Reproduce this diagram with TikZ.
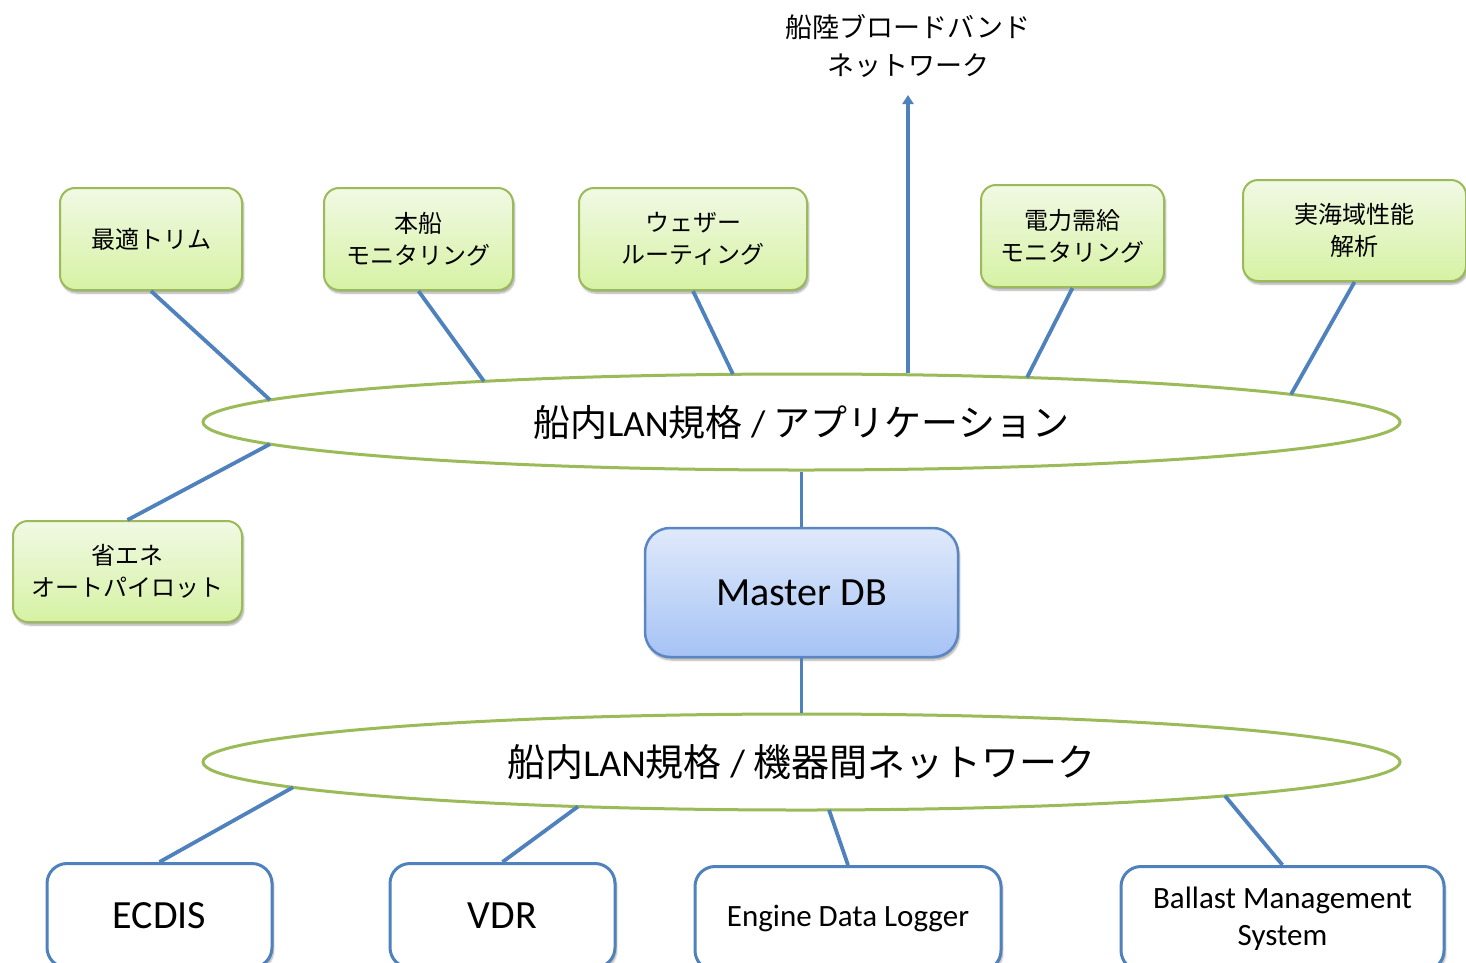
\documentclass[tikz,border=0pt]{standalone}
\usepackage{fontspec}
\setmainfont{Carlito}
\newfontfamily\jp{Noto Sans CJK JP}
\usetikzlibrary{shapes.geometric,shadows.blur,arrows.meta}

\definecolor{olive}{HTML}{9BBB59}
\definecolor{linkblue}{HTML}{4F81BD}
\definecolor{apptop}{HTML}{F1F9E4}
\definecolor{appbot}{HTML}{D6F2A4}
\definecolor{dbtop}{HTML}{DFE9FB}
\definecolor{dbbot}{HTML}{A6C3F5}
\definecolor{dbedge}{HTML}{5A86C3}

\tikzset{
  softshadow/.style={blur shadow={shadow xshift=1.5pt, shadow yshift=-3pt,
      shadow opacity=35, shadow blur steps=6}},
  lan/.style={ellipse, draw=olive, line width=3pt, fill=white, inner sep=0pt,
      minimum width=1197pt, minimum height=96pt},
  appbox/.style={draw=olive, line width=2pt, rounded corners=15pt,
      top color=apptop, bottom color=appbot, align=center, inner sep=0pt,
      font=\jp\fontsize{24}{32}\selectfont, softshadow},
  dbbox/.style={draw=dbedge, line width=2.5pt, rounded corners=25pt,
      top color=dbtop, bottom color=dbbot, inner sep=0pt,
      minimum width=313pt, minimum height=129pt,
      font=\fontsize{40}{44}\selectfont, softshadow},
  devbox/.style={draw=linkblue, line width=3pt, rounded corners=20pt,
      fill=white, align=center, inner sep=0pt, anchor=north,
      minimum height=104pt, softshadow},
  link/.style={draw=linkblue, line width=3.8pt},
}

\begin{document}
\begin{tikzpicture}[x=1pt,y=-1pt]
\useasboundingbox (0,0) rectangle (1466,962);
\clip (0,0) rectangle (1466,962);

% the two network rings
\node[lan, font=\fontsize{37}{40}\selectfont] (app) at (801.5,422)
  {{\jp 船内}LAN{\jp 規格} / {\jp アプリケーション}};
\node[lan, font=\fontsize{38}{40}\selectfont] (dev) at (801.5,762)
  {{\jp 船内}LAN{\jp 規格} / {\jp 機器間ネットワーク}};

% attachment points on the rings (offsets from the centre, on the ellipse)
\path (app.center) ++(-531.5,-22.1) coordinate (a1);
\path (app.center) ++(-317.5,-40.7) coordinate (a2);
\path (app.center) ++(-68.5,-47.7)  coordinate (a3);
\path (app.center) ++(225.5,-44.5)  coordinate (a4);
\path (app.center) ++(489.5,-27.6)  coordinate (a5);
\path (app.center) ++(-531.5,22.1)  coordinate (a6);
\path (dev.center) ++(-508.5,25.3)  coordinate (b1);
\path (dev.center) ++(-223.5,44.5)  coordinate (b2);
\path (dev.center) ++(27.5,47.9)    coordinate (b3);
\path (dev.center) ++(423.5,33.9)   coordinate (b4);

% applications
\node[appbox, minimum width=182pt, minimum height=102pt] (trim) at (151,239) {最適トリム};
\node[appbox, minimum width=189pt, minimum height=102pt] (mon) at (418.5,239) {本船\\モニタリング};
\node[appbox, minimum width=228pt, minimum height=102pt] (wx) at (693,239) {ウェザー\\ルーティング};
\node[appbox, minimum width=183pt, minimum height=102pt] (pwr) at (1072.5,236) {電力需給\\モニタリング};
\node[appbox, minimum width=223pt, minimum height=101pt] (perf) at (1354.5,230.5) {実海域性能\\解析};
\node[appbox, minimum width=229pt, minimum height=101pt] (ap) at (127.5,571.5) {省エネ\\オートパイロット};

% database
\node[dbbox] (db) at (801.5,592.5) {Master DB};

% shipboard equipment
\node[devbox, minimum width=225pt, font=\fontsize{40}{44}\selectfont] (ecdis) at (159.5,862) {ECDIS};
\node[devbox, minimum width=225pt, font=\fontsize{40}{44}\selectfont] (vdr) at (502.5,862) {VDR};
\node[devbox, minimum width=306pt, font=\fontsize{31}{37}\selectfont] (edl) at (848,865) {Engine Data Logger};
\node[devbox, minimum width=323pt, font=\fontsize{31}{37}\selectfont] (bms) at (1282.5,865) {Ballast Management\\System};

% shore link
\node[font=\jp\fontsize{27}{38}\selectfont, align=center] (shore) at (908,46) {船陸ブロードバンド\\ネットワーク};
\coordinate (tip) at (908,95);

% connectors
\draw[link] (trim.south) -- (a1);
\draw[link] (mon.south) -- (a2);
\draw[link] (wx.south) -- (a3);
\draw[link] (pwr.south) -- (a4);
\draw[link] (perf.south) -- (a5);
\draw[link] (ap.north) -- (a6);
\draw[link, -{Triangle[width=11pt,length=9pt]}] (tip |- app.north) -- (tip);
\draw[link] (app.south) -- (db.north);
\draw[link] (db.south) -- (dev.north);
\draw[link] (ecdis.north) -- (b1);
\draw[link] (vdr.north) -- (b2);
\draw[link] (edl.north) -- (b3);
\draw[link] (bms.north) -- (b4);
\end{tikzpicture}
\end{document}
